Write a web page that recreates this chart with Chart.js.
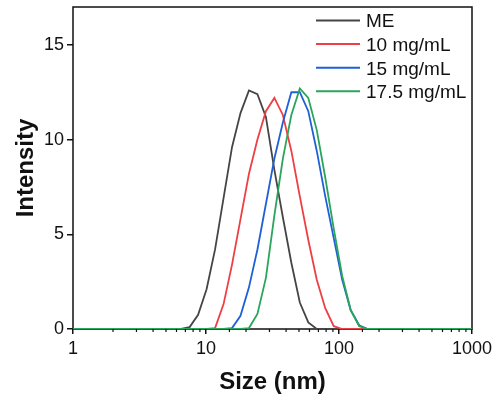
<!DOCTYPE html>
<html>
<head>
<meta charset="utf-8">
<script src="https://cdn.jsdelivr.net/npm/chart.js@4.4.1/dist/chart.umd.min.js"></script>
<style>
  html, body { margin: 0; padding: 0; background: #fff; }
</style>
</head>
<body>
<canvas id="dls" width="496" height="403"></canvas>
<script>
/* ----- dados (bins de tamanho em nm, intensidade em %) ----- */
const sizes = [0.8332, 0.9649, 1.117, 1.294, 1.499, 1.736, 2.01, 2.328, 2.696, 3.122,
  3.615, 4.187, 4.849, 5.615, 6.503, 7.531, 8.721, 10.1, 11.7, 13.54,
  15.69, 18.17, 21.04, 24.36, 28.21, 32.67, 37.84, 43.82, 50.75, 58.77,
  68.06, 78.82, 91.28, 105.7, 122.4, 141.8, 164.2, 190.1, 220.2, 255,
  295.3, 342, 396.1, 458.7, 531.2, 615.1, 712.4, 825, 955.4, 1106];

const meValues = [0, 0, 0, 0, 0, 0, 0, 0, 0, 0,
  0, 0, 0, 0, 0, 0.1, 0.75, 2.1, 4.2, 6.9,
  9.6, 11.4, 12.6, 12.4, 11.2, 8.4, 5.9, 3.5, 1.4, 0.35,
  0, 0, 0, 0, 0, 0, 0, 0, 0, 0,
  0, 0, 0, 0, 0, 0, 0, 0, 0, 0];

const mg10Values = [0, 0, 0, 0, 0, 0, 0, 0, 0, 0,
  0, 0, 0, 0, 0, 0, 0, 0, 0.05, 1.3,
  3.4, 5.8, 8.2, 10.0, 11.5, 12.2, 11.3, 9.4, 7.0, 4.7,
  2.6, 1.1, 0.15, 0, 0, 0, 0, 0, 0, 0,
  0, 0, 0, 0, 0, 0, 0, 0, 0, 0];

const mg15Values = [0, 0, 0, 0, 0, 0, 0, 0, 0, 0,
  0, 0, 0, 0, 0, 0, 0, 0, 0, 0,
  0.05, 0.7, 2.2, 4.2, 6.6, 9.0, 10.9, 12.5, 12.5, 11.5,
  9.4, 7.0, 4.8, 2.6, 1.0, 0.2, 0, 0, 0, 0,
  0, 0, 0, 0, 0, 0, 0, 0, 0, 0];

const mg175Values = [0, 0, 0, 0, 0, 0, 0, 0, 0, 0,
  0, 0, 0, 0, 0, 0, 0, 0, 0, 0,
  0, 0, 0.05, 0.8, 2.7, 6.0, 9.0, 11.3, 12.7, 12.2,
  10.5, 8.0, 5.3, 2.8, 1.0, 0.15, 0, 0, 0, 0,
  0, 0, 0, 0, 0, 0, 0, 0, 0, 0];

const seriesLabels = ['ME', '10 mg/mL', '15 mg/mL', '17.5 mg/mL'];
const seriesColors = ['#454545', '#ee3f44', '#1f60d8', '#2aa55b'];
const yTicks = [0, 5, 10, 15];

const FONT = "'Liberation Sans', Arial, sans-serif";

/* ----- utilidades ----- */
function isDecade(v) {
  const l = Math.log10(v);
  return Math.abs(l - Math.round(l)) < 1e-6;
}

function toPoints(values) {
  return sizes.map((s, i) => ({ x: s, y: values[i] }));
}

/* moldura, ticks menores e legenda desenhados à mão */
const frameAndLegend = {
  id: 'frameAndLegend',
  beforeDatasetsDraw(chart) {
    const { ctx, chartArea: a, scales: { x } } = chart;
    ctx.save();
    ctx.strokeStyle = '#111';
    ctx.lineWidth = 1.5;
    ctx.strokeRect(a.left, a.top, a.right - a.left, a.bottom - a.top);
    // ticks menores do eixo log
    ctx.lineWidth = 1.2;
    x.ticks.forEach(t => {
      if (isDecade(t.value)) return;
      const px = x.getPixelForValue(t.value);
      ctx.beginPath();
      ctx.moveTo(px, a.bottom);
      ctx.lineTo(px, a.bottom + 3);
      ctx.stroke();
    });
    ctx.restore();
  },
  afterDraw(chart) {
    const { ctx } = chart;
    ctx.save();
    ctx.font = `19px ${FONT}`;
    ctx.textBaseline = 'alphabetic';
    ctx.textAlign = 'left';
    chart.data.datasets.forEach((ds, i) => {
      const y = 20.5 + i * 23.6;
      ctx.strokeStyle = ds.borderColor;
      ctx.lineWidth = 2;
      ctx.beginPath();
      ctx.moveTo(316, y);
      ctx.lineTo(360, y);
      ctx.stroke();
      ctx.fillStyle = '#111';
      ctx.fillText(ds.label, 366, y + 6.8);
    });
    ctx.restore();
  }
};

const datasets = [meValues, mg10Values, mg15Values, mg175Values].map((vals, i) => ({
  label: seriesLabels[i],
  data: toPoints(vals),
  borderColor: seriesColors[i],
  backgroundColor: seriesColors[i],
  borderWidth: 1.8,
  pointRadius: 0,
  tension: 0,
  fill: false,
  order: 3 - i   // verde por cima, como no original
}));

new Chart(document.getElementById('dls'), {
  type: 'line',
  data: { datasets },
  options: {
    responsive: false,
    animation: false,
    events: [],
    layout: { padding: { top: 7, right: 24, left: 0, bottom: 0 } },
    plugins: {
      legend: { display: false },
      tooltip: { enabled: false }
    },
    scales: {
      x: {
        type: 'logarithmic',
        min: 1,
        max: 1000,
        border: { display: false },
        grid: {
          drawOnChartArea: false,
          drawTicks: true,
          tickLength: 5,
          lineWidth: 1.5,
          color: '#111',
          tickColor: c => (c.tick && isDecade(c.tick.value)) ? '#111' : 'rgba(0,0,0,0)'
        },
        ticks: {
          autoSkip: false,
          maxRotation: 0,
          padding: 4,
          color: '#111',
          font: { family: FONT, size: 18 },
          callback: v => isDecade(v) ? String(Math.round(v)) : ''
        },
        title: {
          display: true,
          text: 'Size (nm)',
          color: '#111',
          font: { family: FONT, size: 24, weight: 'bold', lineHeight: 1.2 },
          padding: { top: 6, bottom: 6 }
        },
        afterFit(scale) {
          scale.height = 74;
          scale.paddingLeft = 0;
          scale.paddingRight = 0;
        }
      },
      y: {
        min: 0,
        max: 17,
        border: { display: false },
        grid: {
          drawOnChartArea: false,
          drawTicks: true,
          tickLength: 6,
          lineWidth: 1.5,
          color: '#111',
          tickColor: '#111'
        },
        afterBuildTicks(scale) {
          scale.ticks = yTicks.map(v => ({ value: v }));
        },
        ticks: {
          padding: 3,
          color: '#111',
          font: { family: FONT, size: 18 }
        },
        title: {
          display: true,
          text: 'Intensity',
          color: '#111',
          font: { family: FONT, size: 24, weight: 'bold', lineHeight: 1.2 },
          padding: { top: 12, bottom: 12 }
        },
        afterFit(scale) {
          scale.width = 73;
          scale.paddingTop = 0;
          scale.paddingBottom = 0;
        }
      }
    }
  },
  plugins: [frameAndLegend]
});
</script>
</body>
</html>
